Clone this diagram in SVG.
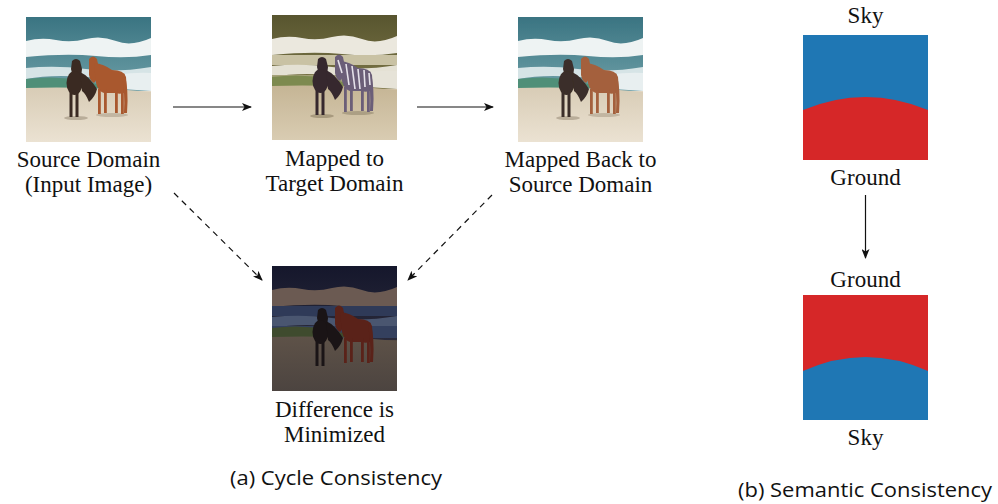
<svg xmlns="http://www.w3.org/2000/svg" width="998" height="504" viewBox="0 0 998 504">
<style>
.lbl{font-family:"Liberation Serif","Times New Roman",serif;font-size:23px;fill:#111;text-anchor:middle}
.cap{font-family:"Open Sans","Liberation Sans",sans-serif;font-size:20px;fill:#111;text-anchor:middle}
.conn{stroke:#111;stroke-width:1.2;fill:none}
.dash{stroke-dasharray:6 5}
</style>
<defs>
<marker id="ah" viewBox="0 0 10 8" refX="9" refY="4" markerWidth="10" markerHeight="8" markerUnits="userSpaceOnUse" orient="auto">
<path d="M0,0 L10,4 L0,8 L2.5,4 Z" fill="#111"/>
</marker>
<linearGradient id="sea1" x1="0" y1="0" x2="0" y2="1"><stop offset="0" stop-color="#3a7482"/><stop offset="1" stop-color="#6d9fa7"/></linearGradient>
<linearGradient id="sand1" x1="0" y1="0" x2="0" y2="1"><stop offset="0" stop-color="#d8ccb6"/><stop offset="1" stop-color="#ebe2d2"/></linearGradient>
<linearGradient id="top2" x1="0" y1="0" x2="0" y2="1"><stop offset="0" stop-color="#58552f"/><stop offset="1" stop-color="#7d7748"/></linearGradient>
<linearGradient id="sand2" x1="0" y1="0" x2="0" y2="1"><stop offset="0" stop-color="#c5b595"/><stop offset="1" stop-color="#d9ccb2"/></linearGradient>
<linearGradient id="top4" x1="0" y1="0" x2="0" y2="1"><stop offset="0" stop-color="#15172c"/><stop offset="1" stop-color="#2a2a3a"/></linearGradient>
<linearGradient id="sand4" x1="0" y1="0" x2="0" y2="1"><stop offset="0" stop-color="#5e5248"/><stop offset="1" stop-color="#4c4440"/></linearGradient>
<filter id="soft" x="-5%" y="-5%" width="110%" height="110%"><feGaussianBlur stdDeviation="0.5"/></filter>
<clipPath id="sq"><rect x="0" y="0" width="125" height="125"/></clipPath>
<symbol id="wave" viewBox="0 0 125 125" overflow="visible"><path d="M0,24 Q15,20 30,23 T60,22 T90,24 T125,21 L125,38 Q100,42 70,39 T0,40 Z"/></symbol>
<symbol id="foam" viewBox="0 0 125 125" overflow="visible"><path d="M0,51 Q30,48 60,52 T125,50 L125,60 Q95,63 60,60 T0,62 Z"/></symbol>
<symbol id="foamR" viewBox="0 0 125 125" overflow="visible"><path d="M90,58 Q110,55 125,56 L125,74 L96,72 Q92,66 90,58 Z"/></symbol>
<symbol id="horseA" viewBox="0 0 125 125" overflow="visible">
<path d="M46,44 Q50,40 54,44 L56,52 L55,60 Q51,64 47,60 L45,52 Z"/>
<ellipse cx="48.5" cy="66" rx="8" ry="12"/>
<rect x="43.5" y="73" width="3" height="27"/>
<rect x="49.5" y="73" width="3" height="27"/>
<path d="M54,55 Q63,59 71,72 Q69,80 63,85 Q60,77 56,74 Z"/>
</symbol>
<symbol id="horseB" viewBox="0 0 125 125" overflow="visible">
<path d="M63,42 Q67,37 71,42 L73,52 Q72,62 68,66 Q64,64 63,58 Z"/>
<path d="M68,46 Q78,47 86,53 Q98,53 100,60 L101,74 Q96,78 90,76 L78,76 Q72,74 70,66 Z"/>
<rect x="72" y="72" width="2.8" height="25"/>
<rect x="78" y="72" width="2.8" height="24"/>
<rect x="89" y="72" width="2.8" height="24"/>
<rect x="95" y="72" width="2.8" height="25"/>
<path d="M98,56 Q103,70 101,96 L98,96 Q99,75 96,60 Z"/>
</symbol>
</defs>

<g id="node-source">
<g transform="translate(26,17)" clip-path="url(#sq)">
<rect width="125" height="125" fill="url(#sand1)"/>
<rect width="125" height="74" fill="url(#sea1)"/>
<use href="#wave" width="125" height="125" fill="#eef3f3"/>
<use href="#foam" width="125" height="125" fill="#d6e4e6"/>
<use href="#foamR" width="125" height="125" fill="#e8eff0"/>
<path d="M0,62 Q30,58 60,64 L85,71 L0,73 Z" fill="#4f8f78"/>
<path d="M0,71 Q60,69 125,75 L125,125 L0,125 Z" fill="url(#sand1)"/>
<ellipse cx="50" cy="101" rx="12" ry="2" fill="#b9ad99"/>
<ellipse cx="86" cy="98" rx="16" ry="2" fill="#c2b6a2"/>
<use href="#horseB" width="125" height="125" fill="#a9582e"/>
<use href="#horseA" width="125" height="125" fill="#3a2a22"/>
</g>
<text class="lbl" x="88.5" y="167">Source Domain</text>
<text class="lbl" x="88.5" y="192">(Input Image)</text>
</g>

<g id="node-target">
<g transform="translate(272,15)" clip-path="url(#sq)">
<rect width="125" height="125" fill="url(#sand2)"/>
<rect width="125" height="74" fill="url(#top2)"/>
<use href="#wave" width="125" height="125" fill="#ebe8de"/>
<rect y="40" width="125" height="10" fill="#c9c2a4"/>
<use href="#foam" width="125" height="125" fill="#e4e1d4"/>
<rect y="60" width="125" height="12" fill="#a5a27a"/>
<use href="#foamR" width="125" height="125" fill="#e6e3d8"/>
<path d="M0,62 Q30,58 60,64 L85,71 L0,73 Z" fill="#7d8a4f"/>
<path d="M0,71 Q60,69 125,75 L125,125 L0,125 Z" fill="url(#sand2)"/>
<ellipse cx="50" cy="101" rx="12" ry="2" fill="#a89a7e"/>
<ellipse cx="86" cy="98" rx="16" ry="2" fill="#ac9f84"/>
<use href="#horseB" width="125" height="125" fill="#6b5e78"/>
<g stroke="#e6e2ea" stroke-width="1.6" fill="none">
<path d="M66,45 L70,58"/><path d="M74,49 L77,70"/><path d="M80,51 L83,74"/><path d="M86,54 L88,74"/><path d="M92,55 L93,72"/><path d="M97,58 L98,70"/>
</g>
<use href="#horseA" width="125" height="125" fill="#36282e"/>
</g>
<text class="lbl" x="334.5" y="166">Mapped to</text>
<text class="lbl" x="334.5" y="191">Target Domain</text>
</g>

<g id="node-back">
<g transform="translate(518,17)" clip-path="url(#sq)">
<g filter="url(#soft)">
<rect width="125" height="125" fill="url(#sand1)"/>
<rect width="125" height="74" fill="url(#sea1)"/>
<use href="#wave" width="125" height="125" fill="#eef3f3"/>
<use href="#foam" width="125" height="125" fill="#d6e4e6"/>
<use href="#foamR" width="125" height="125" fill="#e8eff0"/>
<path d="M0,62 Q30,58 60,64 L85,71 L0,73 Z" fill="#4f8f78"/>
<path d="M0,71 Q60,69 125,75 L125,125 L0,125 Z" fill="url(#sand1)"/>
<ellipse cx="50" cy="101" rx="12" ry="2" fill="#b9ad99"/>
<ellipse cx="86" cy="98" rx="16" ry="2" fill="#c2b6a2"/>
<use href="#horseB" width="125" height="125" fill="#a4613c"/>
<use href="#horseA" width="125" height="125" fill="#3b2e29"/>
</g>
</g>
<text class="lbl" x="580.5" y="167">Mapped Back to</text>
<text class="lbl" x="580.5" y="192">Source Domain</text>
</g>

<g id="node-diff">
<g transform="translate(272,266)" clip-path="url(#sq)">
<rect width="125" height="125" fill="url(#sand4)"/>
<rect width="125" height="74" fill="url(#top4)"/>
<path d="M0,24 Q15,20 30,23 T60,22 T90,24 T125,21 L125,40 Q100,43 70,40 T0,41 Z" fill="#6b5a52"/>
<rect y="40" width="125" height="10" fill="#2f3a58"/>
<use href="#foam" width="125" height="125" fill="#4a5670"/>
<rect y="60" width="125" height="12" fill="#34405e"/>
<path d="M0,62 Q30,58 60,64 L85,71 L0,73 Z" fill="#3f4b2e"/>
<path d="M0,71 Q60,69 125,75 L125,125 L0,125 Z" fill="url(#sand4)"/>
<use href="#horseB" width="125" height="125" fill="#5a2219"/>
<use href="#horseA" width="125" height="125" fill="#1a1416"/>
</g>
<text class="lbl" x="334.5" y="417">Difference is</text>
<text class="lbl" x="334.5" y="442">Minimized</text>
</g>

<g id="node-seg-top">
<text class="lbl" x="865.5" y="23">Sky</text>
<rect x="803" y="35" width="125" height="125" fill="#1f77b4"/>
<path d="M803,110 Q865.5,84 928,110 L928,160 L803,160 Z" fill="#d62728"/>
<text class="lbl" x="865.5" y="185">Ground</text>
</g>

<g id="node-seg-bottom">
<text class="lbl" x="865.5" y="287">Ground</text>
<rect x="803" y="295" width="125" height="125" fill="#d62728"/>
<path d="M803,371 Q865.5,343 928,371 L928,420 L803,420 Z" fill="#1f77b4"/>
<text class="lbl" x="865.5" y="445">Sky</text>
</g>

<g id="connectors">
<line class="conn" x1="173" y1="107" x2="251" y2="107" marker-end="url(#ah)"/>
<line class="conn" x1="417" y1="107" x2="493" y2="107" marker-end="url(#ah)"/>
<line class="conn dash" x1="174" y1="193" x2="262" y2="280" marker-end="url(#ah)"/>
<line class="conn dash" x1="492" y1="195" x2="408" y2="280" marker-end="url(#ah)"/>
<line class="conn" x1="865.5" y1="195" x2="865.5" y2="258" marker-end="url(#ah)"/>
</g>

<g id="captions">
<text class="cap" x="336" y="485" textLength="212" lengthAdjust="spacingAndGlyphs">(a) Cycle Consistency</text>
<text class="cap" x="865" y="497" textLength="254" lengthAdjust="spacingAndGlyphs">(b) Semantic Consistency</text>
</g>
</svg>
